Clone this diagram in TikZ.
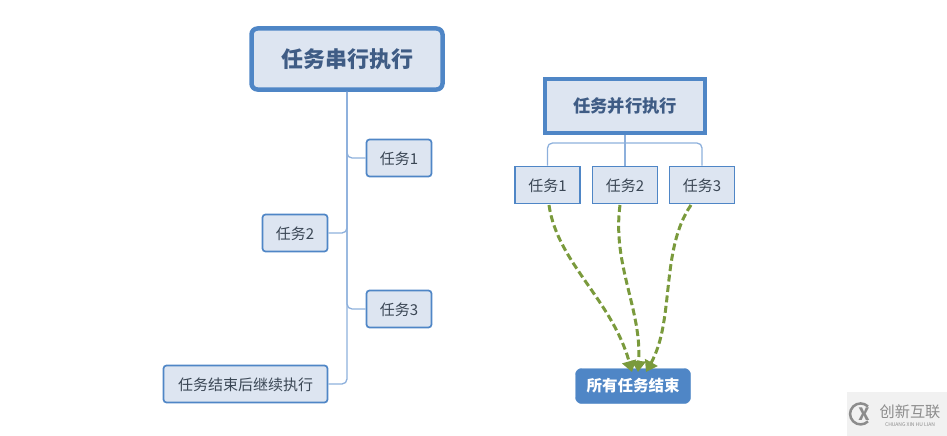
\documentclass[tikz,border=0pt]{standalone}
\usepackage{fontspec}
\setmainfont{Noto Sans CJK SC}
\usetikzlibrary{arrows.meta}
\definecolor{boxblue}{HTML}{4F86C6}
\definecolor{boxfill}{HTML}{DDE5F1}
\definecolor{linkblue}{HTML}{8DB0DC}
\definecolor{titleink}{HTML}{3F5C85}
\definecolor{taskink}{HTML}{3A4654}
\definecolor{waitgreen}{HTML}{7A9A3C}
\definecolor{markgray}{HTML}{F1F1F1}
\definecolor{markink}{HTML}{8C8C8C}
\tikzset{
  task/.style={draw=boxblue, fill=boxfill, line width=1.7pt, rounded corners=3pt,
    minimum width=65pt, minimum height=37pt, inner sep=0pt, text=taskink, text height=15pt, text depth=1.6pt, font=\fontsize{15}{17}\selectfont},
  squaretask/.style={task, rounded corners=0pt},
  title/.style={draw=boxblue, fill=boxfill, line width=4.5pt, text=titleink, inner sep=0pt},
  link/.style={draw=linkblue, line width=1.3pt, rounded corners=5pt},
  wait/.style={draw=waitgreen, line width=3pt, dash pattern=on 7pt off 3.5pt, -{Triangle[length=11pt,width=14pt]}}
}
\begin{document}
\begin{tikzpicture}[x=1pt,y=-1pt]
  \useasboundingbox (0,0) rectangle (947,436);
  % serial side
  \node[title, rounded corners=6pt, minimum width=191pt, minimum height=61pt, font=\fontsize{22}{24}\selectfont\bfseries] (serial) at (347,59) {任务串行执行};
  \node[task] (s1) at (399,158) {任务1};
  \node[task] (s2) at (295,233) {任务2};
  \node[task] (s3) at (399,309) {任务3};
  \node[task, minimum width=164pt] (s4) at (245.5,384) {任务结束后继续执行};
  \draw[link] (serial.south) |- (s1.west);
  \draw[link] (serial.south) |- (s2.east);
  \draw[link] (serial.south) |- (s3.west);
  \draw[link] (serial.south) |- (s4.east);
  % parallel side
  \node[title, minimum width=160pt, minimum height=54pt, font=\fontsize{17.3}{20}\selectfont\bfseries] (para) at (625,106) {任务并行执行};
  \node[squaretask] (p1) at (547.5,185) {任务1};
  \node[squaretask] (p2) at (625,185) {任务2};
  \node[squaretask] (p3) at (702,185) {任务3};
  \node[draw=boxblue, fill=boxblue, rounded corners=6pt, minimum width=115pt, minimum height=35pt, inner sep=0pt, text=white, font=\fontsize{15.5}{18}\selectfont\bfseries] (done) at (633,386) {所有任务结束};
  \coordinate (bus) at (625,143);
  \draw[link] (para.south) -- (p2.north);
  \draw[link] (bus) -| (p1.north);
  \draw[link] (bus) -| (p3.north);
  \coordinate (w1) at (549,205);
  \coordinate (w2) at (620,205);
  \coordinate (w3) at (691,205);
  \coordinate (d1) at (632,372);
  \coordinate (d2) at (638,372);
  \coordinate (d3) at (646,372);
  \draw[wait] (w1) .. controls (557,262) and (612,300) .. (d1);
  \draw[wait] (w2) .. controls (612,265) and (642,310) .. (d2);
  \draw[wait] (w3) .. controls (660,250) and (675,320) .. (d3);
  % watermark
  \node[fill=markgray, minimum width=100pt, minimum height=44pt, inner sep=0pt] (mark) at (897,414) {};
  \draw[markink, line width=2.5pt] (868,406.5) arc[start angle=45, end angle=315, radius=10.5pt];
  \node[text=markink, inner sep=0pt, font=\bfseries\fontsize{17}{17}\selectfont] (logo) at (864,414) {X};
  \node[text=markink, inner sep=0pt, text height=12pt, text depth=1pt, font=\fontsize{15.2}{16}\selectfont] (brand) at (910,412) {创新互联};
  \node[text=markink, inner sep=0pt, text height=4pt, text depth=0pt, font=\fontsize{5}{6}\selectfont] (pinyin) at (910,424) {CHUANG XIN HU LIAN};
\end{tikzpicture}
\end{document}
